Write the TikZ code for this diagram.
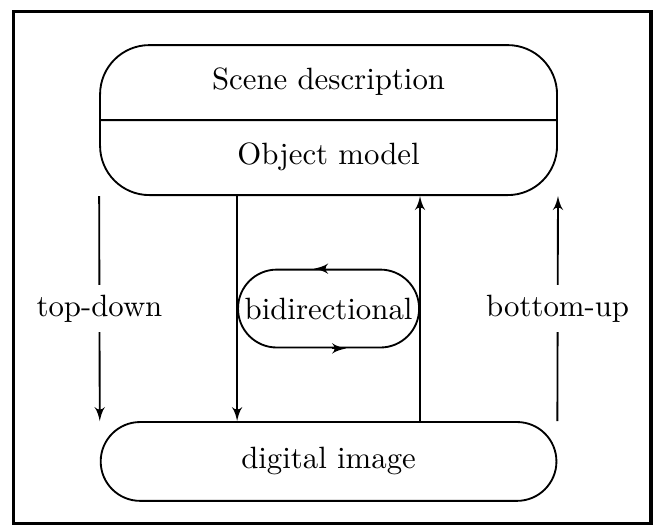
\documentclass[tikz,border=0pt]{standalone}
\usetikzlibrary{shapes,arrows,positioning}
\newcommand{\partstrut}{\rule[-3.85pt]{0pt}{12.35pt}}
\tikzstyle{layer} = [rectangle split, rectangle split parts=2, draw,
    rounded corners=16pt, minimum width=148.4pt, inner ysep=5.7pt]
\tikzstyle{block} = [rectangle, draw, rounded corners=12.8pt,
    minimum width=148pt, minimum height=25.6pt]
\tikzstyle{twoway} = [rectangle, draw, rounded corners=12.6pt,
    minimum width=58.8pt, minimum height=25.3pt, inner xsep=0pt]
\tikzstyle{line} = [draw, -latex']
\tikzstyle{side} = [fill=white]
\tikzstyle{border} = [draw, line width=1pt]

\begin{document}
\begin{tikzpicture}[node distance=23.6pt, line width=0.6pt]
	\useasboundingbox (-106.7pt,39pt) rectangle (106pt,-132.2pt);
	\path [border] (-102.4pt,35.4pt) rectangle (104.7pt,-130.9pt);

	\node [layer] (layers) at (0,0)
		{\partstrut Scene description \nodepart{two} \partstrut Object model};
	\node [twoway, below=of layers] (bidir) {bidirectional};
	\node [block, below=of bidir] (image) {digital image};

	\path [line] (bidir.west |- layers.south) -- (bidir.west |- image.north);
	\path [line] (bidir.east |- image.north) -- (bidir.east |- layers.south);

	\path [line] ([xshift=-1pt]bidir.north) -- ([xshift=-4.7pt]bidir.north);
	\path [line] ([xshift=1pt]bidir.south) -- ([xshift=5.7pt]bidir.south);

	\path [line] (layers.south west) -- node [side] {top-down} (image.north west);
	\path [line] (image.north east) -- node [side] {bottom-up} (layers.south east);
\end{tikzpicture}
\end{document}
